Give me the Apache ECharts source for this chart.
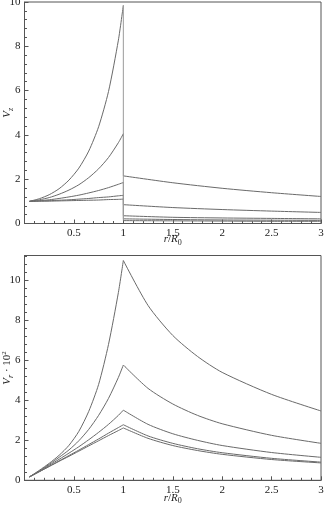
<!DOCTYPE html>
<html>
<head>
<meta charset="utf-8">
<script src="https://cdn.jsdelivr.net/npm/echarts@6/dist/echarts.min.js"></script>
<style>
html, body { margin: 0; padding: 0; background: #fff; }
#main { width: 326px; height: 507px; }
</style>
</head>
<body>
<div id="main"></div>
<script>
// r/R0 sample points inside and outside the jump at r = R0
var xIn = [0.05, 0.15, 0.25, 0.35, 0.45, 0.55, 0.65, 0.75, 0.85, 0.95, 1];
var xOutTop = [1, 1.5, 2, 2.5, 3];
var xOutBot = [1, 1.25, 1.5, 1.75, 2, 2.5, 3];

// top panel, V_z
var vzIn = [
    [1, 1.12, 1.30, 1.57, 1.96, 2.50, 3.27, 4.37, 5.96, 8.28, 9.85],
    [1, 1.07, 1.17, 1.32, 1.51, 1.75, 2.07, 2.47, 2.98, 3.65, 4.05],
    [1, 1.03, 1.07, 1.13, 1.20, 1.28, 1.38, 1.49, 1.62, 1.77, 1.85],
    [1, 1.01, 1.03, 1.05, 1.07, 1.10, 1.13, 1.17, 1.20, 1.25, 1.27],
    [1, 1.01, 1.01, 1.02, 1.03, 1.04, 1.05, 1.06, 1.08, 1.09, 1.10]
];
var vzOut = [
    [2.15, 1.84, 1.59, 1.39, 1.22],
    [0.85, 0.72, 0.63, 0.56, 0.50],
    [0.35, 0.28, 0.25, 0.23, 0.21],
    [0.21, 0.18, 0.16, 0.15, 0.14],
    [0.13, 0.12, 0.11, 0.10, 0.10]
];

// bottom panel, V_r * 10^2
var vrIn = [
    [0.17, 0.50, 0.85, 1.25, 1.75, 2.45, 3.45, 4.80, 6.80, 9.40, 11.0],
    [0.17, 0.47, 0.80, 1.15, 1.52, 1.98, 2.55, 3.25, 4.10, 5.15, 5.77],
    [0.17, 0.45, 0.75, 1.05, 1.36, 1.68, 2.03, 2.40, 2.80, 3.25, 3.51],
    [0.17, 0.43, 0.70, 0.97, 1.24, 1.51, 1.79, 2.07, 2.36, 2.64, 2.78],
    [0.17, 0.43, 0.69, 0.95, 1.20, 1.46, 1.72, 1.98, 2.24, 2.49, 2.62]
];
var vrOut = [
    [11.0, 8.75, 7.25, 6.20, 5.40, 4.30, 3.47],
    [5.77, 4.60, 3.82, 3.25, 2.83, 2.25, 1.85],
    [3.51, 2.80, 2.33, 2.00, 1.74, 1.39, 1.15],
    [2.78, 2.22, 1.85, 1.58, 1.38, 1.10, 0.91],
    [2.62, 2.10, 1.74, 1.49, 1.30, 1.04, 0.87]
];

var serif = '"Liberation Serif", "DejaVu Serif", serif';
var axisCol = '#555';
var lineCol = '#6a6a6a';

var nameRich = {
    i: { fontFamily: serif, fontStyle: 'italic', fontSize: 11, color: '#222', lineHeight: 14 },
    n: { fontFamily: serif, fontSize: 11, color: '#222', lineHeight: 14 },
    sub: { fontFamily: serif, fontSize: 8, color: '#222', lineHeight: 8, verticalAlign: 'bottom' },
    subi: { fontFamily: serif, fontStyle: 'italic', fontSize: 8, color: '#222', lineHeight: 8, verticalAlign: 'bottom' },
    sup: { fontFamily: serif, fontSize: 7, color: '#222', lineHeight: 7, verticalAlign: 'top' }
};

function xAxisOf(idx, gap) {
    return {
        type: 'value', gridIndex: idx, min: 0, max: 3, interval: 0.5,
        name: '{i|r}{n|/}{i|R}{sub|0}', nameLocation: 'middle', nameGap: gap,
        nameMoveOverlap: false,
        nameTextStyle: { rich: nameRich },
        axisLine: { show: true, onZero: false, lineStyle: { color: axisCol, width: 1 } },
        axisTick: { show: true, inside: true, length: 4, lineStyle: { color: axisCol } },
        minorTick: { show: true, splitNumber: 5, length: 2.5, lineStyle: { color: axisCol } },
        axisLabel: { showMinLabel: false, margin: 4, fontFamily: serif, fontSize: 11, color: '#222' },
        splitLine: { show: false }
    };
}

function yAxisOf(idx, max, name) {
    return {
        type: 'value', gridIndex: idx, min: 0, max: max, interval: 2,
        name: name, nameLocation: 'middle', nameGap: 10, nameRotate: 90,
        nameMoveOverlap: false,
        nameTextStyle: { rich: nameRich },
        axisLine: { show: true, onZero: false, lineStyle: { color: axisCol, width: 1 } },
        axisTick: { show: true, inside: true, length: 4, lineStyle: { color: axisCol } },
        minorTick: { show: true, splitNumber: 5, length: 2.5, lineStyle: { color: axisCol } },
        axisLabel: {
            margin: 4, fontFamily: serif, fontSize: 11, color: '#222',
            formatter: function (v) { return v % 2 === 0 ? String(v) : ''; }
        },
        splitLine: { show: false }
    };
}

function curve(xi, yi, data, smooth, col) {
    return {
        type: 'line', xAxisIndex: xi, yAxisIndex: yi, data: data,
        symbol: 'none', smooth: smooth,
        lineStyle: { color: col || lineCol, width: 1 },
        silent: true, animation: false
    };
}

var series = [];
for (var i = 0; i < 5; i++) {
    var last = xIn.length - 1;
    series.push(curve(0, 0, xIn.map(function (x, j) { return [x, vzIn[i][j]]; }), 0.25));
    series.push(curve(0, 0, [[1, vzIn[i][last]], [1, vzOut[i][0]]], false, '#9a9a9a'));
    series.push(curve(0, 0, xOutTop.map(function (x, j) { return [x, vzOut[i][j]]; }), 0.25));
    series.push(curve(1, 1, xIn.map(function (x, j) { return [x, vrIn[i][j]]; }), 0.25));
    series.push(curve(1, 1, xOutBot.map(function (x, j) { return [x, vrOut[i][j]]; }), 0.25));
}

var myChart = echarts.init(document.getElementById('main'), null, { renderer: 'canvas' });
var option = {
    backgroundColor: '#fff',
    animation: false,
    grid: [
        { left: 24.5, right: 5, top: 2, height: 221.5, show: true, borderColor: axisCol, borderWidth: 1, outerBoundsMode: 'none', containLabel: false },
        { left: 24.5, right: 5, top: 255.5, height: 224.8, show: true, borderColor: axisCol, borderWidth: 1, outerBoundsMode: 'none', containLabel: false }
    ],
    xAxis: [xAxisOf(0, 9), xAxisOf(1, 11)],
    yAxis: [
        yAxisOf(0, 10, '{i|V}{subi|z}'),
        yAxisOf(1, 11.25, '{i|V}{subi|r}{n| · 10}{sup|2}')
    ],
    series: series
};
myChart.setOption(option);
</script>
</body>
</html>
